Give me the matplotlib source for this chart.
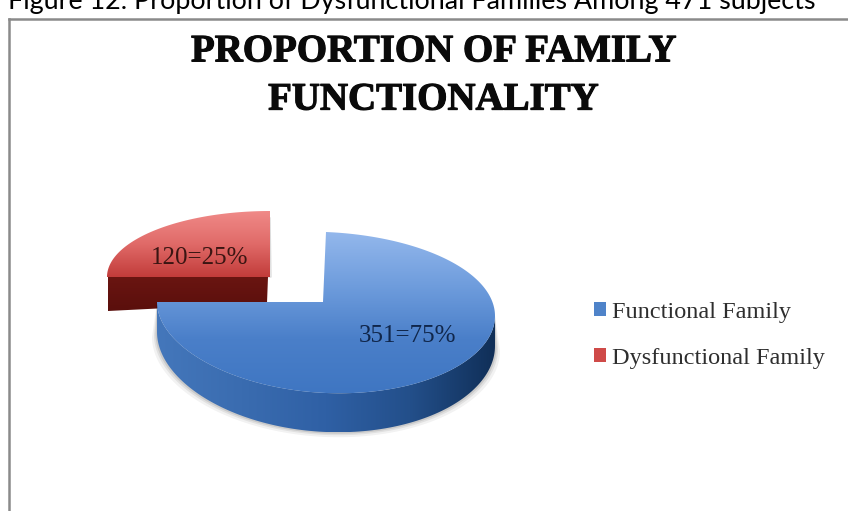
import numpy as np
import matplotlib
matplotlib.use("Agg")
import matplotlib.pyplot as plt
import matplotlib.patheffects as pe
from matplotlib.patches import Patch, Polygon
from matplotlib.colors import LinearSegmentedColormap

caption = "Figure 12. Proportion of Dysfunctional Families Among 471 subjects"
title = "PROPORTION OF FAMILY\nFUNCTIONALITY"
categories = ["Functional Family", "Dysfunctional Family"]
counts = [351, 120]
percents = [75, 25]


def ramp(colors):
    return LinearSegmentedColormap.from_list("r", colors)


# the tilted look of the original: not a true ellipse, so map angles by hand
def rim(deg, cx, cy, rx, a, b, tilt):
    t = np.radians(deg)
    x = cx + rx * np.cos(t)
    y = cy - a * np.sin(t) + b * np.sin(t) ** 2 + tilt * (1 + np.cos(t))
    return x, y


def fill(ax, xs, ys, colors, horizontal=False, z=2):
    poly = Polygon(np.column_stack([xs, ys]), closed=True, fc="none", ec="none", zorder=z)
    ax.add_patch(poly)
    grad = np.linspace(0, 1, 256).reshape(-1, 1)
    if horizontal:
        grad = grad.T
    im = ax.imshow(grad, cmap=ramp(colors), aspect="auto", zorder=z,
                   extent=(min(xs), max(xs), max(ys), min(ys)))
    im.set_clip_path(poly)


fig = plt.figure(figsize=(8.48, 5.11), dpi=100)
ax = fig.add_axes([0, 0, 1, 1])

# let pie work out the wedge angles, the faces are then drawn from them
wedges, _ = ax.pie(percents, startangle=180)
blue_a, blue_b = wedges[0].theta1, wedges[0].theta2
red_a, red_b = wedges[1].theta1, wedges[1].theta2
for w in wedges:
    w.set_visible(False)

# red slice, pulled out to the upper left
t = np.linspace(red_a, red_b, 80)
rx, ry = 163 * np.cos(np.radians(t)) + 270, 277 - 66 * np.sin(np.radians(t))
fill(ax, np.r_[270, rx], np.r_[277, ry], ["#f08a88", "#e06a68", "#c23c3a"], z=3)
fill(ax, [108, 268, 267, 108], [277, 277, 303, 311], ["#6a1511", "#5a0f0c"], z=2)
ax.plot([270, 271, 268], [218, 277, 277], color="#a9a9a9", lw=1, alpha=0.4, zorder=1)

# blue slice: soft shadow, side wall, then top face
t = np.linspace(180, 360, 120)
sx, sy = rim(t, 326, 302, 169, 80.5, 3.5, 7)
thick = 30 + 9 * np.abs(np.sin(np.radians(t)))
for grow, alpha in [(5, 0.05), (3, 0.07), (1.5, 0.1)]:
    ax.fill(np.r_[sx + grow * np.cos(np.radians(t)), sx[::-1]],
            np.r_[sy + thick + grow, sy[::-1]], color="black", alpha=alpha, lw=0, zorder=3)
fill(ax, np.r_[sx, sx[::-1]], np.r_[sy + thick, sy[::-1]],
     ["#4477bb", "#3a6cb0", "#2f60a5", "#234f8a", "#102f58"], horizontal=True, z=4)

t = np.linspace(blue_a, blue_b, 240)
tx, ty = rim(t, 326, 302, 169, 80.5, 3.5, 7)
fill(ax, np.r_[323, tx], np.r_[302, ty], ["#94b8ec", "#6f9ddd", "#4a7fc9", "#3f76c2"], z=5)

ax.text(200, 258, f"{counts[1]}={percents[1]}%", family="Liberation Serif", fontsize=18,
        color="#3a1512", ha="center", va="center", zorder=6)
ax.text(407, 336, f"{counts[0]}={percents[0]}%", family="Liberation Serif", fontsize=18,
        color="#10264a", ha="center", va="center", zorder=6)

ax.text(433, 76, title, family="Liberation Serif", weight="bold", fontsize=28,
        color="#0a0a0a", ha="center", va="center", linespacing=1.4, zorder=6,
        path_effects=[pe.withStroke(linewidth=0.8, foreground="#0a0a0a")])
ax.text(8, 9, caption, family="Lato", fontsize=19.4, color="black", ha="left", va="baseline")

# frame of the pasted chart
ax.plot([9, 9], [511, 19], color="#8a8a8a", lw=1.8, zorder=6)
ax.plot([9, 848], [19, 19], color="#8a8a8a", lw=1.8, zorder=6)

handles = [Patch(fc="#4f83c9", ec="none"), Patch(fc="#cf4a48", ec="none")]
ax.legend(handles, categories, loc="upper left", bbox_to_anchor=(594 / 848, 1 - 302 / 511),
          frameon=False, prop={"family": "Liberation Serif", "size": 17.5},
          handlelength=0.5, handleheight=0.5, handletextpad=0.22, labelspacing=1.02,
          labelcolor="#2e2e2e", borderpad=0, borderaxespad=0)

ax.set_aspect("auto")
ax.set_xlim(0, 848)
ax.set_ylim(511, 0)
ax.axis("off")
fig.savefig("out.png", dpi=100)
